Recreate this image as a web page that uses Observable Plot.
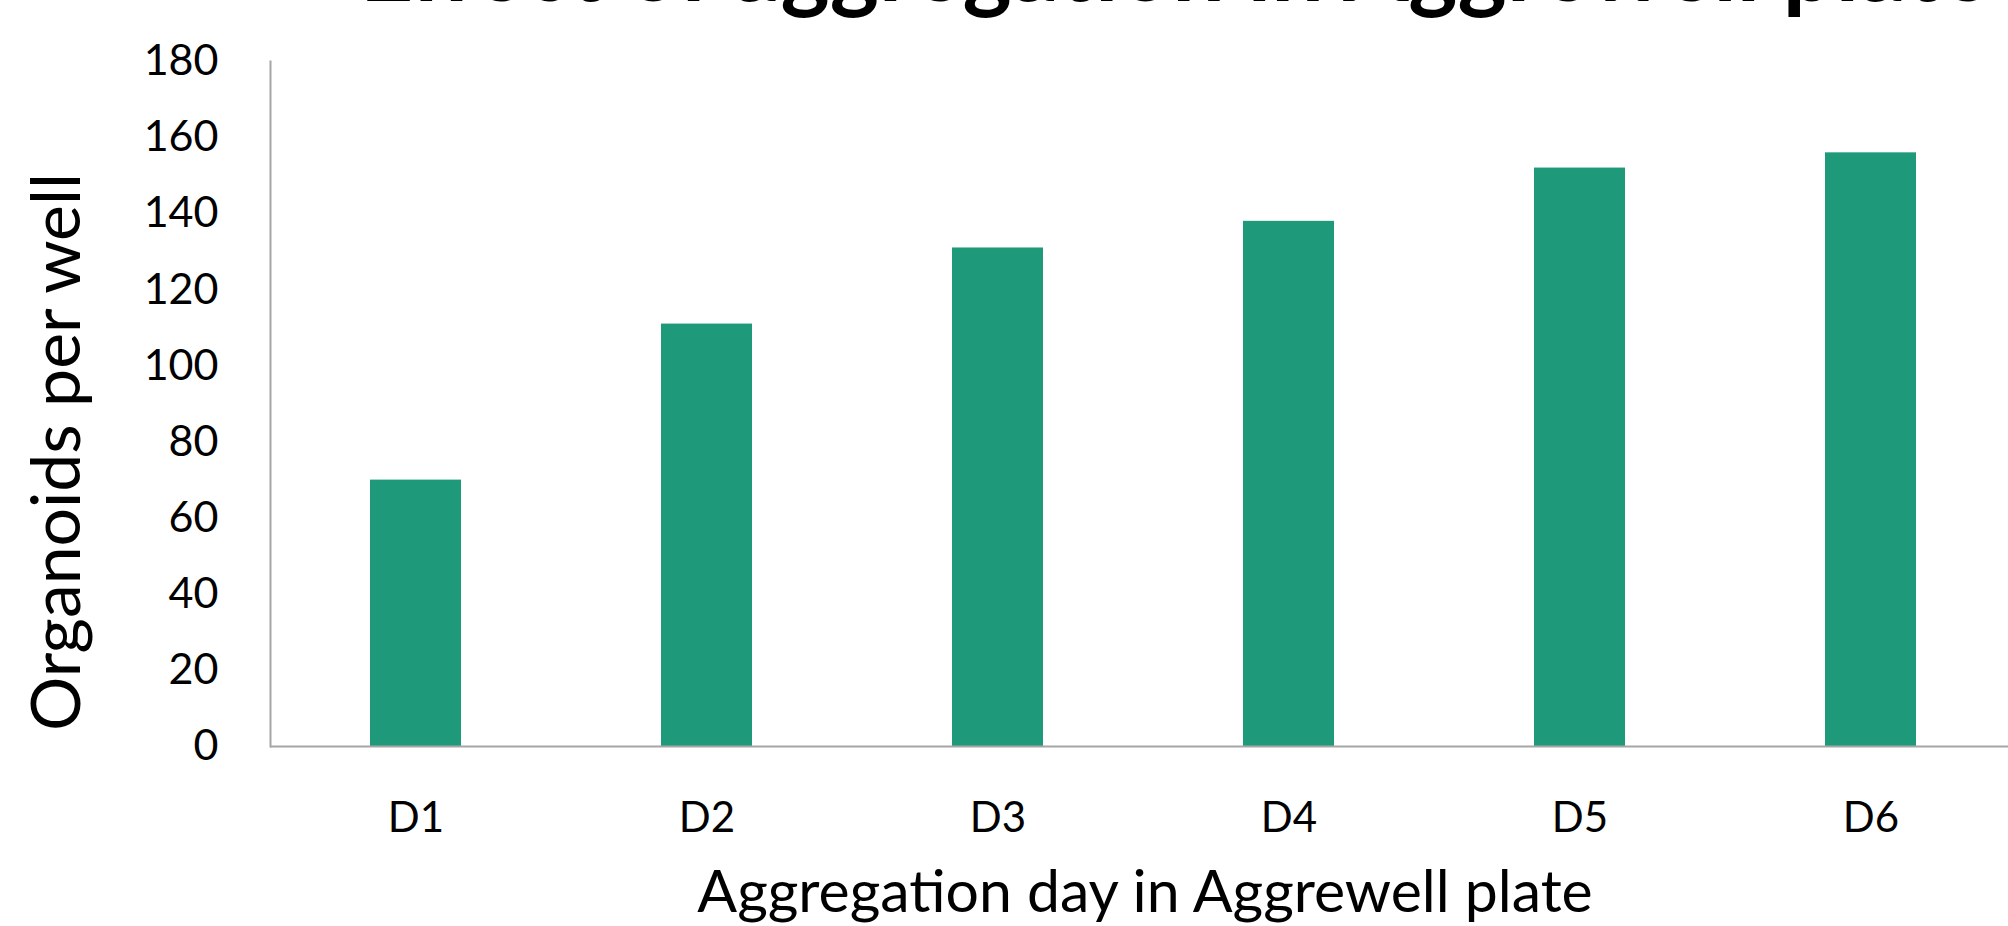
<!DOCTYPE html>
<html>
<head>
<meta charset="utf-8">
<script src="https://cdn.jsdelivr.net/npm/d3@7"></script>
<script src="https://cdn.jsdelivr.net/npm/@observablehq/plot@0.6"></script>
<style>
  html, body { margin: 0; padding: 0; background: #fff; overflow: hidden; width: 2008px; height: 926px; }
  #wrap { position: relative; width: 2008px; height: 926px; overflow: hidden; font-family: Lato, "Open Sans", sans-serif; }
  #chart { position: absolute; left: 0; top: 0; width: 2016px; }
  #chart svg { max-width: none !important; }
  #overlay { position: absolute; left: 0; top: 0; pointer-events: none; overflow: hidden; }
</style>
</head>
<body>
<div id="wrap">
  <div id="chart"></div>
  <svg id="overlay" width="2008" height="926"></svg>
</div>
<script>
// ---- data ----
const days = ["D1", "D2", "D3", "D4", "D5", "D6"];
const organoids = [70, 111, 131, 138, 152, 156];
const yTicks = [0, 20, 40, 60, 80, 100, 120, 140, 160, 180];
const titlePrefix = "Effect of ";
const titleMain = "aggregation in Aggrewell plate";
const xTitle = "Aggregation day in Aggrewell plate";
const yTitle = "Organoids per well";

const data = days.map((d, i) => ({day: d, value: organoids[i]}));

const barColor = "#1e9a7a";
const axisColor = "#a6a6a6";
const font = "Lato, 'Open Sans', sans-serif";

const plot = Plot.plot({
  width: 2016,
  height: 926,
  marginLeft: 270,
  marginRight: 0,
  marginTop: 61,
  marginBottom: 180,
  style: {fontFamily: font, background: "transparent", color: "#000", maxWidth: "none"},
  x: {domain: days, paddingInner: 0.687, paddingOuter: 0.3435, label: null},
  y: {domain: [0, 180], label: null},
  marks: [
    Plot.barY(data, {x: "day", y: "value", fill: barColor}),
    Plot.axisY({ticks: yTicks, tickSize: 0, tickPadding: 52, fontSize: 43, label: null, fill: "#000"}),
    Plot.axisX({tickSize: 0, tickPadding: 56, fontSize: 42, label: null, fill: "#000"}),
    Plot.frame({anchor: "left", stroke: axisColor, strokeWidth: 2}),
    Plot.ruleY([0], {stroke: axisColor, strokeWidth: 2})
  ]
});
document.getElementById("chart").appendChild(plot);

// ---- overlay texts: title (clipped at top) and axis titles ----
const ns = "http://www.w3.org/2000/svg";
const overlay = document.getElementById("overlay");
function mk(txt, attrs) {
  const t = document.createElementNS(ns, "text");
  t.textContent = txt;
  for (const k in attrs) t.setAttribute(k, attrs[k]);
  overlay.appendChild(t);
  return t;
}
const ctx = document.createElement("canvas").getContext("2d");
function measure(txt, weight, size) {
  ctx.font = `${weight} ${size}px Lato`;
  return ctx.measureText(txt);
}
function fitSize(txt, weight, target) {
  return 100 * target / measure(txt, weight, 100).width;
}

// Title: mostly above the top edge, only descenders show
const tSize = fitSize(titleMain, "bold", 1260);
const prefW = measure(titlePrefix, "bold", tSize).width;
const gDesc = measure("g", "bold", tSize).actualBoundingBoxDescent;
mk(titlePrefix + titleMain, {
  x: 735 - prefW, y: 18 - gDesc, "font-family": font, "font-size": tSize, "font-weight": "bold", fill: "#000"
});

// X axis title
const xs = fitSize(xTitle, "normal", 899);
mk(xTitle, {x: 1145, y: 912, "text-anchor": "middle", "font-family": font, "font-size": xs, fill: "#000"});

// Y axis title
const ys = fitSize(yTitle, "normal", 561);
mk(yTitle, {transform: "translate(80,452) rotate(-90)", "text-anchor": "middle", "font-family": font, "font-size": ys, fill: "#000"});
</script>
</body>
</html>
